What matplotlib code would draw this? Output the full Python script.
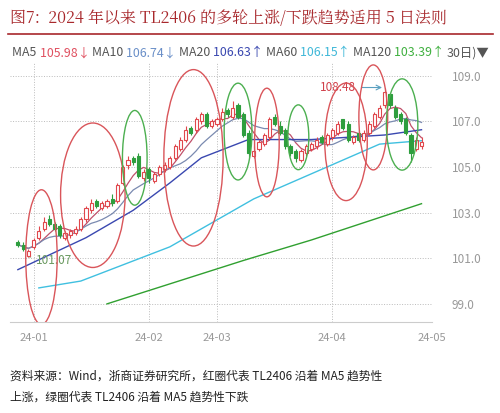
import matplotlib
matplotlib.use("Agg")
import matplotlib.pyplot as plt
from matplotlib.patches import Ellipse
import numpy as np
import pandas as pd

plt.rcParams['font.family'] = ['Noto Sans CJK SC', 'DejaVu Sans']

closes = [101.6,101.4,101.3,101.8,102.2,102.6,102.5,102.3,102.0,102.1,102.2,102.3,102.7,103.2,103.4,103.3,103.4,103.5,103.4,104.2,
          105.0,105.3,105.2,104.6,104.8,104.5,104.7,105.0,105.1,105.4,105.9,106.2,106.6,106.5,107.1,107.3,106.8,107.0,107.1,107.4,
          107.3,107.6,107.2,106.4,105.6,105.7,106.1,106.4,107.1,106.9,106.5,105.9,105.6,105.4,105.7,105.9,106.0,106.2,106.1,106.4,
          106.6,106.9,106.7,106.2,106.3,106.2,106.5,106.9,107.3,107.6,108.3,107.7,107.2,107.0,106.5,105.6,106.2,106.1]
opens = [101.7,101.6,101.1,101.5,101.9,102.3,102.7,102.5,102.4,101.9,102.0,102.1,102.3,102.7,103.1,103.5,103.2,103.3,103.6,103.5,
         104.3,105.1,105.4,105.5,104.5,104.9,104.4,104.7,104.9,105.0,105.4,105.8,106.2,106.7,106.6,107.0,107.3,106.8,106.9,107.1,
         107.5,107.2,107.7,107.3,106.5,105.5,105.8,106.0,106.3,107.2,106.8,106.6,105.9,105.7,105.3,105.6,105.8,105.9,106.3,106.0,
         106.3,106.5,107.1,106.9,106.1,106.5,106.2,106.5,106.8,107.2,107.7,108.2,107.6,107.3,107.1,106.4,105.8,105.9]
highs = [101.8,101.7,101.4,101.9,102.4,102.8,102.9,102.6,102.5,102.2,102.3,102.4,102.8,103.3,103.6,103.6,103.5,103.6,103.8,104.3,
         105.1,105.5,105.5,105.6,104.9,105.0,104.8,105.1,105.2,105.5,106.0,106.3,106.8,106.8,107.2,107.4,107.4,107.1,107.2,107.6,
         107.6,107.9,107.8,107.4,106.6,105.9,106.2,106.5,107.2,107.3,107.0,106.7,106.0,105.8,105.8,106.0,106.1,106.3,106.4,106.5,
         106.7,107.0,107.1,107.0,106.4,106.6,106.6,107.0,107.4,107.7,108.48,108.2,107.7,107.4,107.2,106.5,106.3,106.3]
lows = [101.5,101.3,101.07,101.4,101.8,102.2,102.4,102.2,101.9,101.8,101.9,102.0,102.2,102.6,103.0,103.2,103.1,103.2,103.3,103.4,
        104.2,104.9,105.1,104.5,104.4,104.3,104.3,104.6,104.8,104.9,105.3,105.7,106.1,106.4,106.5,106.9,106.7,106.7,106.8,107.0,
        107.2,107.1,107.1,106.3,105.4,105.4,105.7,105.9,106.2,106.8,106.4,105.8,105.5,105.2,105.2,105.5,105.7,105.8,106.0,105.9,
        106.2,106.4,106.6,106.1,106.0,106.1,106.1,106.4,106.7,107.1,107.6,107.6,107.1,106.9,106.4,105.2,105.7,105.8]

ma20_idx = [0, 13, 22, 29, 35, 44, 56, 70, 77]
ma20_val = [100.5, 101.9, 103.1, 104.3, 105.4, 106.2, 106.2, 106.4, 106.63]
ma60_idx = [4, 12, 29, 45, 56, 69, 77]
ma60_val = [99.7, 100.0, 101.5, 103.6, 104.7, 106.0, 106.15]
ma120_idx = [17, 43, 56, 77]
ma120_val = [99.0, 100.9, 101.8, 103.39]

ellipses = [(4.5,101.05,6,5.9,'r'),(14.3,103.76,12.3,6.33,'r'),(22.3,105.4,4.7,4.15,'g'),
            (33.5,105.4,11.3,7.73,'r'),(42,106.55,5.3,4.24,'g'),(47.5,106.07,4.7,4.76,'r'),
            (53.5,106.3,4.0,2.84,'g'),(62.6,106.1,8.1,5.15,'r'),(67.8,107.17,5.5,4.6,'r'),
            (73.3,106.86,6,4.0,'g')]

xtick_pos = [3, 25, 38, 60, 79]
xtick_lab = ['24-01', '24-02', '24-03', '24-04', '24-05']
yticks = [99.0, 101.0, 103.0, 105.0, 107.0, 109.0]

RED = '#e0474c'; GRN = '#2e9e3e'
fig = plt.figure(figsize=(5, 4.13), dpi=100)
fig.text(0.02, 0.955, '图7:  2024 年以来 TL2406 的多轮上涨/下跌趋势适用 5 日法则', color='#a8282c',
         fontsize=11.5, va='center', family=['Noto Serif CJK SC', 'Noto Sans CJK SC', 'DejaVu Sans'])
fig.add_artist(plt.Line2D([0.015, 0.985], [0.918, 0.918], color='#a8282c', lw=1.2))

hdr = [('MA5 ', '#555555'), ('105.98↓ ', '#e05060'), ('MA10 ', '#555555'), ('106.74↓ ', '#6a8fc8'),
       ('MA20 ', '#555555'), ('106.63↑ ', '#3a48b0'), ('MA60 ', '#555555'), ('106.15↑ ', '#40b8d8'),
       ('MA120 ', '#555555'), ('103.39↑ ', '#40b040'), ('30日)▼', '#555555')]
x = 0.025
for t, c in hdr:
    tx = fig.text(x, 0.872, t, color=c, fontsize=8.9, va='center')
    fig.canvas.draw()
    bb = tx.get_window_extent()
    x += bb.width / 500

ax = fig.add_axes([0.02, 0.22, 0.844, 0.63])
idx = np.arange(len(closes))
c = np.array(closes); o = np.array(opens)
up = c >= o
cols = np.where(up, RED, GRN)
ax.vlines(idx, lows, highs, colors=cols, lw=0.8, zorder=3)
body_b = np.minimum(c, o); body_h = np.maximum(np.abs(c - o), 0.04)
ax.bar(idx[up], body_h[up], bottom=body_b[up], width=0.6, facecolor='white', edgecolor=RED, lw=0.8, zorder=4)
ax.bar(idx[~up], body_h[~up], bottom=body_b[~up], width=0.6, facecolor=GRN, edgecolor=GRN, lw=0.8, zorder=4)

s = pd.Series(closes)
ax.plot(idx, s.rolling(5, min_periods=1).mean(), color='#c0506a', lw=0.9)
ax.plot(idx, s.rolling(10, min_periods=1).mean(), color='#7a8ab0', lw=0.9)
ax.plot(ma20_idx, ma20_val, color='#3a48b0', lw=1.0)
ax.plot(ma60_idx, ma60_val, color='#40c0e0', lw=1.0)
ax.plot(ma120_idx, ma120_val, color='#30a030', lw=1.0)

for cx, cy, w, h, col in ellipses:
    ax.add_patch(Ellipse((cx, cy), w, h, fill=False, edgecolor='#d9555a' if col == 'r' else '#4caf50', lw=1.0, zorder=5))

ax.annotate('101.07', xy=(2, 101.07), xytext=(3.5, 100.9), color='#6a9a60', fontsize=8.5, va='center',
            arrowprops=dict(arrowstyle='-', color='#6a9a60', lw=0.8))
ax.annotate('108.48', xy=(70, 108.48), xytext=(64.5, 108.48), color='#d0404a', fontsize=8.5, va='center', ha='right',
            arrowprops=dict(arrowstyle='->', color='#5aa0c0', lw=0.8))

ax.set_xlim(-1.5, 78.5)
ax.set_ylim(98.2, 109.6)
ax.yaxis.tick_right()
ax.set_yticks(yticks)
ax.set_yticklabels([f'{v:.1f}' for v in yticks], color='#999999', fontsize=8.5)
ax.set_xticks(xtick_pos)
ax.set_xticklabels(xtick_lab, color='#999999', fontsize=8)
ax.tick_params(axis='y', length=0, pad=14)
ax.tick_params(axis='x', length=0, pad=8)
ax.grid(True, ls=':', color='#bbbbbb', lw=0.7)
for sp in ['top', 'left', 'right']:
    ax.spines[sp].set_visible(False)
ax.spines['bottom'].set_color('#cccccc')

fig.text(0.02, 0.08, '资料来源：Wind，浙商证券研究所，红圈代表 TL2406 沿着 MA5 趋势性', fontsize=8.5, color='#222222')
fig.text(0.02, 0.03, '上涨，绿圈代表 TL2406 沿着 MA5 趋势性下跌', fontsize=8.5, color='#222222')
fig.savefig('out.png', dpi=100)
